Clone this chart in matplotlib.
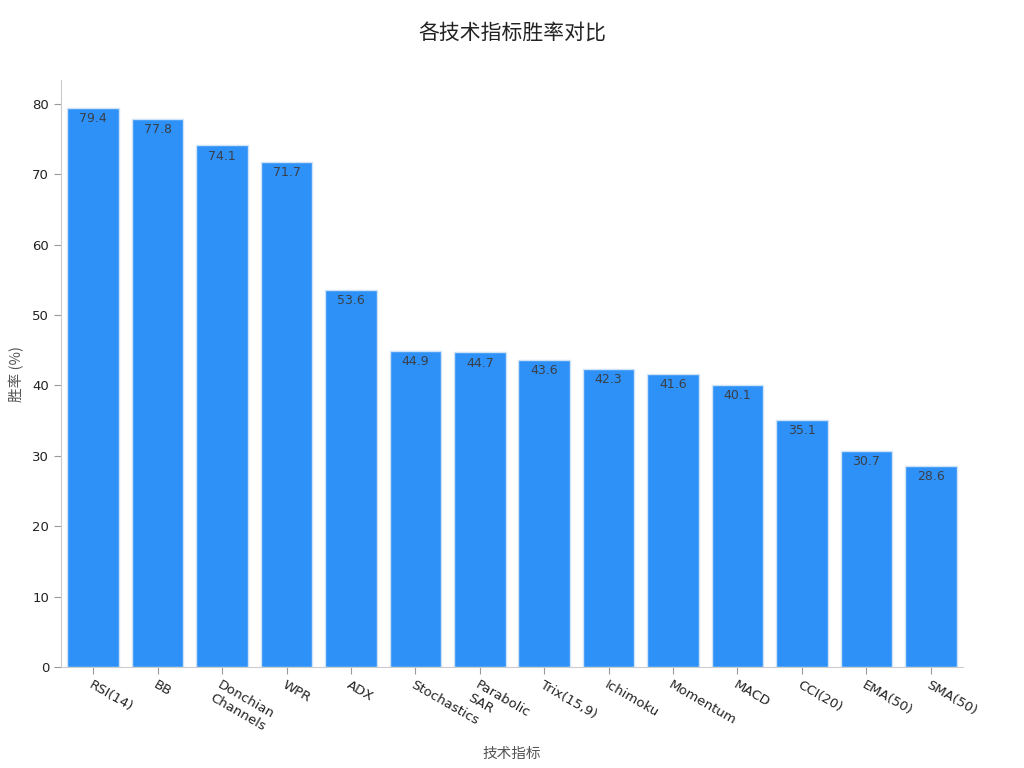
import matplotlib
matplotlib.use("Agg")
import matplotlib.pyplot as plt

plt.rcParams['font.family'] = ['Noto Sans CJK SC', 'DejaVu Sans']

indicators = ["RSI(14)", "BB", "Donchian\nChannels", "WPR", "ADX", "Stochastics",
              "Parabolic\nSAR", "Trix(15,9)", "Ichimoku", "Momentum", "MACD",
              "CCI(20)", "EMA(50)", "SMA(50)"]
win_rates = [79.4, 77.8, 74.1, 71.7, 53.6, 44.9, 44.7, 43.6, 42.3, 41.6, 40.1, 35.1, 30.7, 28.6]

fig = plt.figure(figsize=(10.24, 7.68), dpi=100)
ax = fig.add_axes([0.0596, 0.1315, 0.8808, 0.7643])

x = list(range(len(indicators)))
bars = ax.bar(x, win_rates, width=0.8, color='#2E91F8', edgecolor='#cfe3f7', linewidth=1)
for xi, v in zip(x, win_rates):
    ax.text(xi, v - 0.6, f"{v:.1f}", ha='center', va='top', fontsize=9,
            color='#3a3f47', family=['DejaVu Sans'])

ax.set_xlim(-0.5, len(indicators) - 0.5)
ax.set_ylim(0, max(win_rates) * 1.05)
ax.set_yticks([0, 10, 20, 30, 40, 50, 60, 70, 80])
ax.set_xticks(x)
ax.set_xticklabels(indicators, rotation=-30, ha='left', rotation_mode='anchor',
                   fontsize=9.5, color='#222222', family=['DejaVu Sans'])
for lab in ax.get_yticklabels():
    lab.set_family(['DejaVu Sans'])
ax.tick_params(axis='y', labelsize=9.5, colors='#222222')
ax.tick_params(axis='both', color='#999999', length=5)

for s in ['top', 'right']:
    ax.spines[s].set_visible(False)
for s in ['left', 'bottom']:
    ax.spines[s].set_color('#cccccc')

ax.set_ylabel("胜率 (%)", fontsize=10.5, color='#555555', labelpad=6)
ax.set_xlabel("技术指标", fontsize=10.5, color='#555555', labelpad=9)
fig.suptitle("各技术指标胜率对比", fontsize=15, color='#222222', y=0.97)

fig.savefig("out.png", dpi=100)
